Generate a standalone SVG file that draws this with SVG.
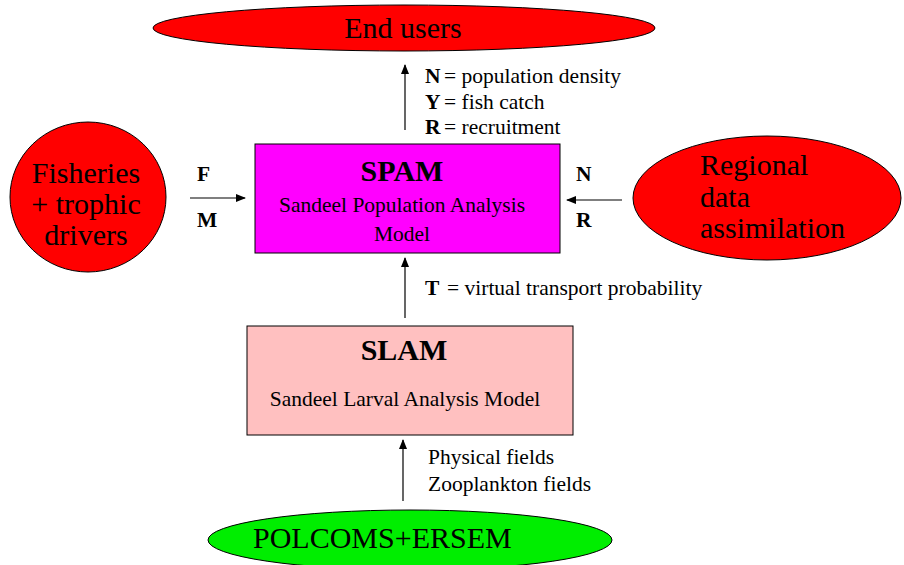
<svg xmlns="http://www.w3.org/2000/svg" width="904" height="565" viewBox="0 0 904 565">
<defs>
<marker id="ah" markerWidth="10" markerHeight="8" refX="9" refY="4" orient="auto" markerUnits="userSpaceOnUse">
<path d="M0,0 L10,4 L0,8 Z" fill="#000"/>
</marker>
<style>
text{font-family:"Liberation Serif","Times New Roman",serif;fill:#000}
.big{font-size:30px}
.title{font-size:30px;font-weight:bold}
.sub{font-size:21.5px}
.lab{font-size:21.5px}
.b{font-weight:bold}
.shape{stroke:#000;stroke-width:1}
.conn{stroke:#000;stroke-width:1.2;fill:none;marker-end:url(#ah)}
</style>
</defs>
<rect width="904" height="565" fill="#fff"/>
<g id="end-users">
<ellipse class="shape" cx="404" cy="28" rx="251" ry="23" fill="#ff0000"/>
<text class="big" x="403" y="38" text-anchor="middle">End users</text>
</g>
<g id="fisheries">
<ellipse class="shape" cx="88" cy="197" rx="78" ry="75" fill="#ff0000"/>
<text class="big" x="86" y="183" text-anchor="middle">Fisheries</text>
<text class="big" x="86" y="214" text-anchor="middle">+ trophic</text>
<text class="big" x="86" y="245" text-anchor="middle">drivers</text>
</g>
<g id="spam">
<rect class="shape" x="255" y="144" width="305" height="109" fill="#ff00ff"/>
<text class="title" x="402" y="181" text-anchor="middle">SPAM</text>
<text class="sub" x="402" y="212" text-anchor="middle">Sandeel Population Analysis</text>
<text class="sub" x="402" y="241" text-anchor="middle">Model</text>
</g>
<g id="regional">
<ellipse class="shape" cx="767" cy="198" rx="134" ry="62" fill="#ff0000"/>
<text class="big" x="700" y="175">Regional</text>
<text class="big" x="700" y="207">data</text>
<text class="big" x="700" y="238">assimilation</text>
</g>
<g id="slam">
<rect class="shape" x="247" y="326" width="326" height="109" fill="#ffc0c0"/>
<text class="title" x="404" y="360" text-anchor="middle">SLAM</text>
<text class="sub" x="405" y="406" text-anchor="middle">Sandeel Larval Analysis Model</text>
</g>
<g id="polcoms">
<ellipse class="shape" cx="410" cy="540" rx="202" ry="30" fill="#00ee00"/>
<text class="big" x="253" y="548">POLCOMS+ERSEM</text>
</g>
<g id="connectors">
<line class="conn" x1="405" y1="130" x2="405" y2="65"/>
<line class="conn" x1="190" y1="198" x2="245" y2="198"/>
<line class="conn" x1="622" y1="200" x2="567" y2="200"/>
<line class="conn" x1="405" y1="318" x2="405" y2="258"/>
<line class="conn" x1="403" y1="501" x2="403" y2="440"/>
</g>
<g id="labels">
<text class="lab b" x="425" y="83">N</text><text class="lab" x="444" y="83">= population density</text>
<text class="lab b" x="425" y="109">Y</text><text class="lab" x="444" y="109">= fish catch</text>
<text class="lab b" x="425" y="134">R</text><text class="lab" x="444" y="134">= recruitment</text>
<text class="lab b" x="197" y="181">F</text>
<text class="lab b" x="197" y="227">M</text>
<text class="lab b" x="576" y="181">N</text>
<text class="lab b" x="576" y="227">R</text>
<text class="lab b" x="425" y="295">T</text><text class="lab" x="447" y="295">= virtual transport probability</text>
<text class="lab" x="428" y="464">Physical fields</text>
<text class="lab" x="428" y="491">Zooplankton fields</text>
</g>
</svg>
